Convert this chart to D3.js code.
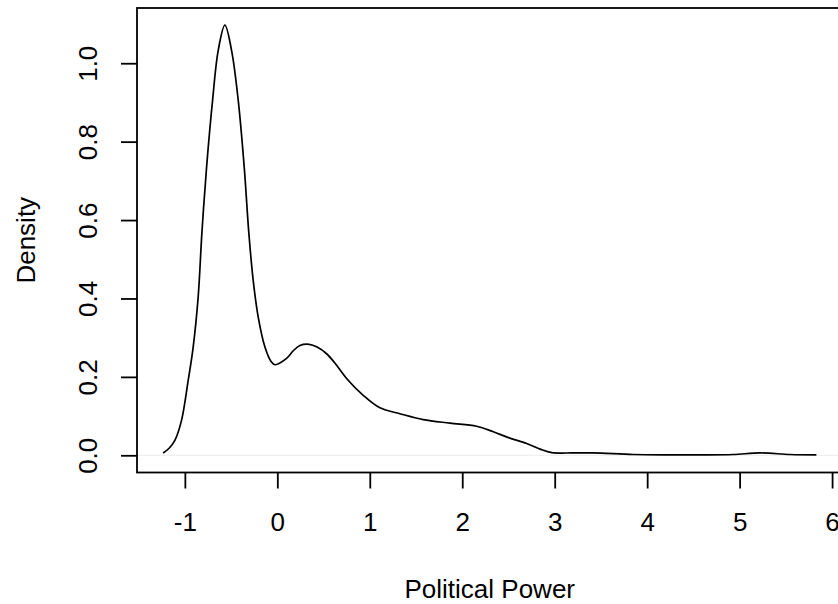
<!DOCTYPE html>
<html>
<head>
<meta charset="utf-8">
<script src="https://cdn.jsdelivr.net/npm/d3@7"></script>
<style>
  body { margin: 0; background: #fff; }
  svg { display: block; font-family: "Liberation Sans", Arial, sans-serif; }
</style>
</head>
<body>
<div id="chart"></div>
<script>
// density estimate
var densX = [-1.235, -1.17, -1.108, -1.036, -0.964, -0.91, -0.856, -0.815, -0.765, -0.70,
             -0.639, -0.567, -0.495, -0.423, -0.358, -0.309, -0.261, -0.207, -0.134, -0.07,
             -0.026, 0.10, 0.17, 0.244, 0.345, 0.43, 0.533, 0.62, 0.749, 0.929,
             1.11, 1.326, 1.578, 1.867, 2.156, 2.336, 2.50, 2.697, 2.85, 2.967,
             3.2, 3.418, 3.85, 4.2, 4.57, 4.93, 5.22, 5.545, 5.83];
var densY = [0.006, 0.018, 0.038, 0.089, 0.191, 0.276, 0.404, 0.570, 0.735, 0.906,
             1.033, 1.097, 1.033, 0.906, 0.735, 0.570, 0.446, 0.353, 0.276, 0.240,
             0.231, 0.247, 0.266, 0.280, 0.283, 0.276, 0.259, 0.236, 0.196, 0.153,
             0.121, 0.106, 0.091, 0.082, 0.074, 0.060, 0.045, 0.030, 0.015, 0.007,
             0.006, 0.006, 0.002, 0.001, 0.001, 0.002, 0.006, 0.002, 0.001];
var xTicks = [-1, 0, 1, 2, 3, 4, 5, 6];
var yTicks = [0, 0.2, 0.4, 0.6, 0.8, 1.0];
var xTitle = "Political Power";
var yTitle = "Density";

var width = 838, height = 604;
var plot = {left: 137, right: 842.5, top: 8, bottom: 472.5};

var pts = densX.map(function (d, i) { return {x: d, y: densY[i]}; });

// R pads the data range by 4% on each side
var xe = d3.extent(densX), ye = [0, d3.max(densY)];
var xpad = (xe[1] - xe[0]) * 0.04, ypad = (ye[1] - ye[0]) * 0.04;

var x = d3.scaleLinear().domain([xe[0] - xpad, xe[1] + xpad]).range([plot.left, plot.right]);
var y = d3.scaleLinear().domain([ye[0] - ypad, ye[1] + ypad]).range([plot.bottom, plot.top]);

var svg = d3.select("#chart").append("svg")
    .attr("width", width)
    .attr("height", height);

// faint zero line
svg.append("line")
    .attr("x1", plot.left).attr("x2", plot.right)
    .attr("y1", y(0)).attr("y2", y(0))
    .attr("stroke", "#ececec")
    .attr("stroke-width", 1);

// density curve
var line = d3.line()
    .x(function (d) { return x(d.x); })
    .y(function (d) { return y(d.y); })
    .curve(d3.curveCatmullRom.alpha(0.5));

svg.append("path")
    .datum(pts)
    .attr("d", line)
    .attr("fill", "none")
    .attr("stroke", "#000")
    .attr("stroke-width", 1.7);

// axes
var gx = svg.append("g")
    .attr("transform", "translate(0," + plot.bottom + ")")
    .call(d3.axisBottom(x).tickValues(xTicks).tickSize(16).tickFormat(function (d) { return String(d); }));
gx.select(".domain").remove();
gx.selectAll("line").attr("stroke", "#000").attr("stroke-width", 1.8);
gx.selectAll("text")
    .attr("y", 58.8).attr("dy", 0)
    .style("font-size", "26px")
    .attr("fill", "#000");

var gy = svg.append("g")
    .attr("transform", "translate(" + plot.left + ",0)")
    .call(d3.axisLeft(y).tickValues(yTicks).tickSize(16).tickFormat(d3.format(".1f")));
gy.select(".domain").remove();
gy.selectAll("line").attr("stroke", "#000").attr("stroke-width", 1.8);
gy.selectAll("text")
    .attr("x", 0).attr("dy", 0)
    .attr("transform", "translate(-40.5,0) rotate(-90)")
    .style("text-anchor", "middle")
    .style("font-size", "26px")
    .attr("fill", "#000");

// box
svg.append("rect")
    .attr("x", plot.left).attr("y", plot.top)
    .attr("width", plot.right - plot.left)
    .attr("height", plot.bottom - plot.top)
    .attr("fill", "none")
    .attr("stroke", "#000")
    .attr("stroke-width", 1.8);

// titles
svg.append("text")
    .attr("x", (plot.left + plot.right) / 2)
    .attr("y", 597.5)
    .style("text-anchor", "middle")
    .style("font-size", "26px")
    .text(xTitle);

svg.append("text")
    .attr("transform", "translate(34.5," + ((plot.top + plot.bottom) / 2) + ") rotate(-90)")
    .style("text-anchor", "middle")
    .style("font-size", "26px")
    .text(yTitle);
</script>
</body>
</html>
